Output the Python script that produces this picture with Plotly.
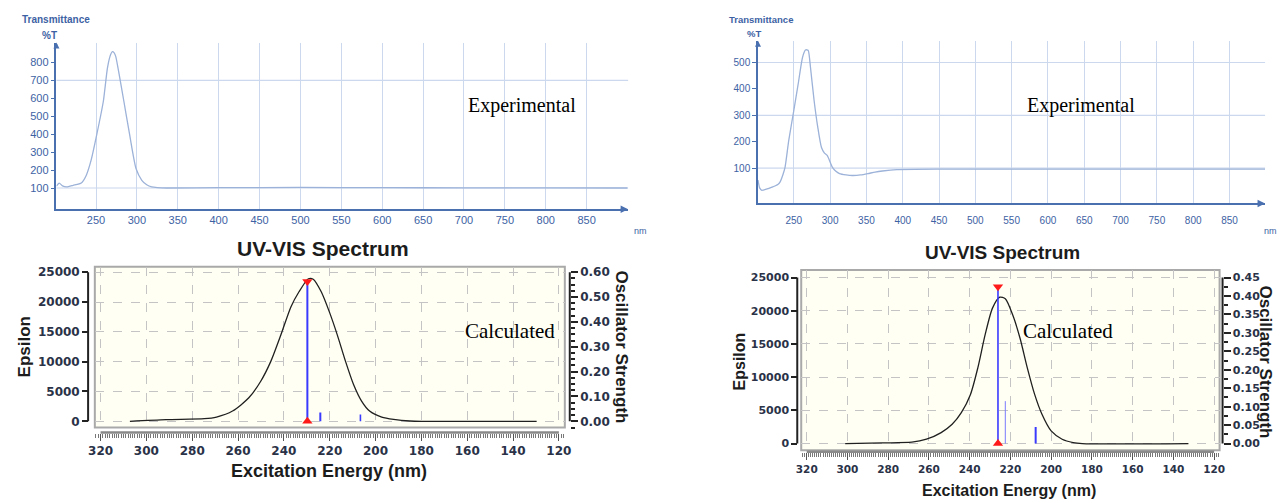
import plotly.graph_objects as go

W, H = 1280, 503


def px(x):
    return x / W


def py(y):
    return 1 - y / H


# ---------------- data ----------------
# Experimental spectrum, left panel (nm, %T)
exp1_nm = [201.6, 205, 209, 214, 222, 232, 238, 244, 251, 259, 264, 268, 270, 272, 274,
           279, 284, 291, 299, 306, 312, 318, 325, 337, 400, 500, 600, 700, 800, 900]
exp1_t = [110, 127, 112, 106, 115, 128, 170, 255, 400, 585, 770, 845, 860, 855, 835,
          715, 585, 400, 207, 143, 118, 106, 102, 100, 102, 103, 102, 101, 101, 100]

# Experimental spectrum, right panel (nm, %T)
exp2_nm = [200.7, 203, 206, 212, 220, 228, 231, 235, 238, 243, 250, 256, 262, 266, 268, 270,
           273, 278, 283, 288, 292, 296, 303, 308, 313, 322, 331, 342, 352, 362, 372, 392,
           450, 550, 650, 750, 899]
exp2_t = [55, 25, 16, 20, 28, 38, 47, 75, 104, 204, 318, 418, 519, 547, 548, 545,
          481, 355, 255, 179, 158, 148, 104, 88, 79, 74, 72, 74, 79, 85, 89, 94,
          96, 96, 96, 96, 96]

# Calculated spectrum, left panel (nm, epsilon)
calc1_nm = [307.2, 291.4, 274.7, 269.4, 262.4, 255.3, 250.1, 245.7, 241.3, 236.9, 233.4,
            229.3, 227.2, 223.7, 220.2, 216.7, 213.1, 209.6, 206.1, 202.6, 197.3, 192.1,
            185.0, 179.8, 129.7]
calc1_eps = [0, 280, 440, 720, 1720, 3940, 6720, 10050, 14500, 19220, 21720,
             23900, 23830, 21720, 18390, 14500, 10050, 6170, 3390, 1720, 720, 330,
             56, 0, 0]

# Calculated spectrum, right panel (nm, epsilon)
calc2_nm = [301.1, 282.8, 268.4, 261.2, 254.0, 248.6, 244.1, 239.6, 236.0, 232.4, 228.8,
            225.2, 222.5, 218.9, 215.3, 211.7, 208.1, 204.5, 200.0, 194.6, 189.2, 184.7, 132.6]
calc2_eps = [0, 100, 200, 650, 1650, 2900, 4650, 7400, 11400, 16400, 20400,
             22050, 21800, 19400, 15900, 11400, 7400, 4400, 1900, 650, 150, 0, 0]

# Oscillator strength sticks
stick1_nm = [229.75, 224.1, 206.6]
stick1_f = [0.563, 0.035, 0.027]
stick2_nm = [226.1, 222.5, 207.6]
stick2_f = [0.425, 0.115, 0.045]

# Tick labels
exp_xticks = [250, 300, 350, 400, 450, 500, 550, 600, 650, 700, 750, 800, 850]
exp1_yticks = [100, 200, 300, 400, 500, 600, 700, 800]
exp2_yticks = [100, 200, 300, 400, 500]
exp1_hgrid = [100, 700]
exp2_hgrid = [100, 300, 500]
calc_xticks = [320, 300, 280, 260, 240, 220, 200, 180, 160, 140, 120]
calc_yticks = [0, 5000, 10000, 15000, 20000, 25000]
osc1_ticks = [0.0, 0.1, 0.2, 0.3, 0.4, 0.5, 0.6]
osc2_ticks = [0.0, 0.05, 0.1, 0.15, 0.2, 0.25, 0.3, 0.35, 0.4, 0.45]

# ---------------- styles ----------------
BLUE = "#4a70b0"
TBLUE = "#3d62a4"
CURVE_BLUE = "#9cb2d8"
GRID_BLUE = "#cbd8ee"
DARK = "#1c1c1c"
TICK_DARK = "#2a3248"
DGRID = "#c4c4c4"
BOX_FILL = "#fffff3"
SANS = "Liberation Sans, Arial, sans-serif"
DEJA = "DejaVu Sans, sans-serif"
SERIF = "Liberation Serif, Times New Roman, serif"

fig = go.Figure()

# experimental curves
fig.add_trace(go.Scatter(x=exp1_nm, y=exp1_t, mode="lines", xaxis="x", yaxis="y",
                         line=dict(color=CURVE_BLUE, width=1.3, shape="spline", smoothing=0.6),
                         hoverinfo="skip"))
fig.add_trace(go.Scatter(x=exp2_nm, y=exp2_t, mode="lines", xaxis="x2", yaxis="y2",
                         line=dict(color=CURVE_BLUE, width=1.3, shape="spline", smoothing=0.6),
                         hoverinfo="skip"))

# calculated curves
fig.add_trace(go.Scatter(x=calc1_nm, y=calc1_eps, mode="lines", xaxis="x3", yaxis="y3",
                         line=dict(color="#202020", width=1.3, shape="spline", smoothing=0.7),
                         hoverinfo="skip"))
fig.add_trace(go.Scatter(x=calc2_nm, y=calc2_eps, mode="lines", xaxis="x4", yaxis="y5",
                         line=dict(color="#202020", width=1.3, shape="spline", smoothing=0.7),
                         hoverinfo="skip"))

# sticks
stick1_style = [("#3a3aff", 2), ("#3a3aff", 2), ("#3a3aff", 1.6)]
stick2_style = [("#3a3aff", 1.6), ("#7a7aff", 1), ("#3a3aff", 2)]
for n, f, (c, w) in zip(stick1_nm, stick1_f, stick1_style):
    fig.add_trace(go.Scatter(x=[n, n], y=[0, f], mode="lines", xaxis="x3", yaxis="y4",
                             line=dict(color=c, width=w), hoverinfo="skip"))
for n, f, (c, w) in zip(stick2_nm, stick2_f, stick2_style):
    fig.add_trace(go.Scatter(x=[n, n], y=[0, f], mode="lines", xaxis="x4", yaxis="y6",
                             line=dict(color=c, width=w), hoverinfo="skip"))

# red triangles on the strongest transition
for sx, sy, xa, ya in [(stick1_nm, stick1_f, "x3", "y4"), (stick2_nm, stick2_f, "x4", "y6")]:
    fig.add_trace(go.Scatter(x=[sx[0]], y=[sy[0]], mode="markers", xaxis=xa, yaxis=ya,
                             marker=dict(symbol="triangle-down", color="#ff1a1a", size=9),
                             cliponaxis=False, hoverinfo="skip"))
    fig.add_trace(go.Scatter(x=[sx[0]], y=[0], mode="markers", xaxis=xa, yaxis=ya,
                             marker=dict(symbol="triangle-up", color="#ff1a1a", size=9),
                             cliponaxis=False, hoverinfo="skip"))

exp_tick_font1 = dict(family=SANS, size=11, color=TBLUE)
exp_tick_font2 = dict(family=SANS, size=10, color=TBLUE)


def exp_x(dom, rng, anchor, font, pad):
    return dict(domain=dom, range=rng, anchor=anchor, showline=True, linecolor=BLUE, linewidth=1.5,
                tickvals=exp_xticks, ticks="outside", ticklen=pad, tickcolor="rgba(0,0,0,0)",
                showgrid=True, gridcolor=GRID_BLUE, gridwidth=1,
                zeroline=False, tickfont=font, fixedrange=True)


def exp_y(dom, rng, anchor, vals, font):
    return dict(domain=dom, range=rng, anchor=anchor, showline=True, linecolor=BLUE, linewidth=1.5,
                tickvals=vals, ticks="outside", ticklen=4, tickcolor=BLUE, showgrid=False,
                zeroline=False, tickfont=font, fixedrange=True)


def calc_x(dom, rng, pos, size):
    return dict(domain=dom, range=rng, anchor="free", position=pos, tickvals=calc_xticks,
                ticks="outside", ticklen=7, tickcolor="#555555", tickwidth=1.2,
                minor=dict(ticks="outside", ticklen=4, dtick=1, tick0=120, tickcolor="#777777",
                           showgrid=False),
                showgrid=True, griddash="dash", gridcolor=DGRID, gridwidth=1,
                showline=False, zeroline=False,
                tickfont=dict(family=DEJA, size=size, color=TICK_DARK, weight="bold"),
                fixedrange=True)


def calc_y(dom, rng, pos, size):
    return dict(domain=dom, range=rng, anchor="free", position=pos, side="left",
                tickvals=calc_yticks, tickformat="d", ticks="outside", ticklen=6, tickwidth=2,
                tickcolor="#222222",
                showgrid=True, griddash="dash", gridcolor=DGRID, gridwidth=1,
                showline=False, zeroline=False,
                tickfont=dict(family=DEJA, size=size, color=TICK_DARK, weight="bold"),
                fixedrange=True)


def osc_y(over, rng, pos, vals, size, minor_dt):
    return dict(overlaying=over, range=rng, anchor="free", position=pos, side="right",
                tickvals=vals, tickformat=".2f", ticks="outside", ticklen=7, tickwidth=2,
                tickcolor="#222222",
                minor=dict(ticks="outside", ticklen=4, dtick=minor_dt, tick0=0, tickcolor="#222222",
                           showgrid=False),
                showgrid=False, showline=False, zeroline=False,
                tickfont=dict(family=DEJA, size=size, color=TICK_DARK, weight="bold"),
                fixedrange=True)


layout = dict(
    width=W, height=H, margin=dict(l=0, r=0, t=0, b=0),
    paper_bgcolor="white", plot_bgcolor="white", showlegend=False,
    xaxis=exp_x([px(50), px(628)], [201.6, 900.8], "y", exp_tick_font1, 0),
    yaxis=exp_y([py(209), py(41.7)], [-18, 911], "x", exp1_yticks, exp_tick_font1),
    xaxis2=exp_x([px(759.3), px(1272)], [200.7, 899], "y2", exp_tick_font2, 7),
    yaxis2=exp_y([py(203.3), py(40)], [-34, 582], "x2", exp2_yticks, exp_tick_font2),
    xaxis3=calc_x([px(88.8), px(564)], [322.5, 117.4], py(433.3), 12),
    yaxis3=calc_y([py(428.3), py(266.7)], [-1052, 25935], px(82), 12),
    yaxis4=osc_y("y3", [-0.02525, 0.6224], px(569), osc1_ticks, 12, 0.025),
    xaxis4=calc_x([px(803), px(1226)], [322.7, 117.3], py(453), 10.5),
    yaxis5=calc_y([py(451), py(270)], [-1005, 26155], px(799), 11),
    yaxis6=osc_y("y5", [-0.01809, 0.4708], px(1229), osc2_ticks, 11, 0.025),
)
fig.update_layout(**layout)

shapes = []
# yellow boxes of the calculated spectra
for xa, ya in [("x3", "y3"), ("x4", "y5")]:
    shapes.append(dict(type="rect", xref=f"{xa} domain", yref=f"{ya} domain", x0=0, x1=1, y0=0, y1=1,
                       fillcolor=BOX_FILL, line=dict(color="#a9a9a9", width=2), layer="below"))
# horizontal grid lines of the experimental spectra
for v in exp1_hgrid:
    shapes.append(dict(type="line", xref="x domain", yref="y", x0=0, x1=1, y0=v, y1=v,
                       line=dict(color=GRID_BLUE, width=1.2), layer="below"))
for v in exp2_hgrid:
    shapes.append(dict(type="line", xref="x2 domain", yref="y2", x0=0, x1=1, y0=v, y1=v,
                       line=dict(color=GRID_BLUE, width=1.2), layer="below"))
# axis lines of the calculated spectra
for xa, ya, ya2, ypos, xl, xr, omax in [("x3", "y3", "y4", 433.3, 82, 569, osc1_ticks[-1]),
                                         ("x4", "y5", "y6", 452.5, 799, 1229, osc2_ticks[-1])]:
    shapes.append(dict(type="line", xref=xa, yref="paper", x0=calc_xticks[0], x1=calc_xticks[-1],
                       y0=py(ypos), y1=py(ypos), line=dict(color="#8a8a8a", width=2.5)))
    shapes.append(dict(type="line", xref="paper", yref=ya, x0=px(xl), x1=px(xl),
                       y0=calc_yticks[0], y1=calc_yticks[-1], line=dict(color="#222222", width=2)))
    shapes.append(dict(type="line", xref="paper", yref=ya2, x0=px(xr), x1=px(xr),
                       y0=0, y1=omax, line=dict(color="#222222", width=2)))
fig.update_layout(shapes=shapes)

ann = []


def txt(x, y, t, size, color=DARK, family=SANS, bold=False, angle=0, xanchor="center"):
    ann.append(dict(x=px(x), y=py(y), xref="paper", yref="paper", text=t, showarrow=False,
                    textangle=angle, xanchor=xanchor, yanchor="middle",
                    font=dict(family=family, size=size, color=color,
                              weight="bold" if bold else "normal")))


# experimental labels
txt(50, 19, "Transmittance", 10, TBLUE, bold=True)
txt(43, 35, "%T", 10, TBLUE, bold=True)
txt(632, 231, "nm", 9, TBLUE, xanchor="left")
txt(521, 105, "Experimental", 20, "#000000", SERIF)
txt(762, 19, "Transmittance", 9.5, TBLUE, bold=True)
txt(755, 33, "%T", 9.5, TBLUE, bold=True)
txt(1269, 231, "nm", 9, TBLUE, xanchor="left")
txt(1086, 105, "Experimental", 20, "#000000", SERIF)

# calculated labels, left
txt(319, 248, "UV-VIS Spectrum", 21, bold=True)
txt(18, 347, "Epsilon", 17, bold=True, angle=-90)
txt(621, 347, "Oscillator Strength", 17, bold=True, angle=90)
txt(326, 472, "Excitation Energy (nm)", 18, bold=True)
txt(509, 331, "Calculated", 21, "#000000", SERIF)

# calculated labels, right
txt(1007, 253, "UV-VIS Spectrum", 19, bold=True)
txt(741, 362, "Epsilon", 16, bold=True, angle=-90)
txt(1272, 362, "Oscillator Strength", 17, bold=True, angle=90)
txt(1013, 491, "Excitation Energy (nm)", 16, bold=True)
txt(1073, 331, "Calculated", 21, "#000000", SERIF)

# axis arrow heads of the experimental plots
for xa, ya, xe, ye, x0, y0t in [("x", "y", 900.8, -18, 201.6, 911), ("x2", "y2", 899, -34, 200.7, 582)]:
    ann.append(dict(x=xe, y=ye, xref=xa, yref=ya, text="", showarrow=True, ax=-9, ay=0,
                    arrowhead=2, arrowsize=1, arrowwidth=1.5, arrowcolor=BLUE, standoff=0))
    ann.append(dict(x=x0, y=y0t, xref=xa, yref=ya, text="", showarrow=True, ax=0, ay=7,
                    arrowhead=2, arrowsize=0.8, arrowwidth=1.5, arrowcolor=BLUE, standoff=0))

fig.update_layout(annotations=ann)

# place the figure at the page's top-left corner (no default body margin), no mode bar
fig.write_html("out.html",
               config={"displayModeBar": False},
               post_script="document.body.style.margin='0';document.body.style.overflow='hidden';")
